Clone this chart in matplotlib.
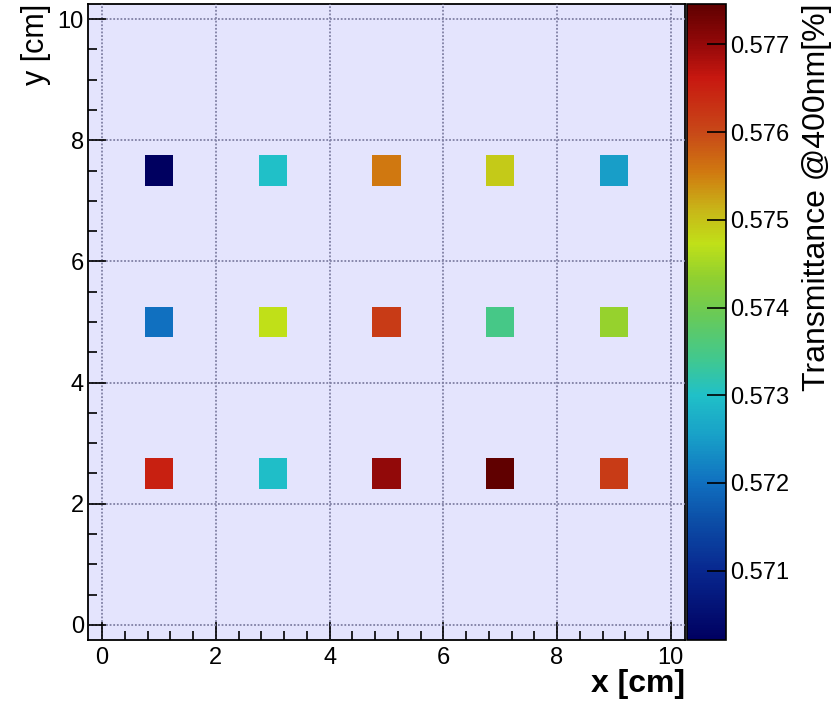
import numpy as np
import matplotlib
matplotlib.use('Agg')
import matplotlib.pyplot as plt
from matplotlib.colors import LinearSegmentedColormap
from matplotlib.ticker import MultipleLocator

plt.rcParams['font.family'] = ['Liberation Sans', 'DejaVu Sans']

# measurement points (cm) and transmittance at 400 nm
x_pos = [1, 3, 5, 7, 9,
         1, 3, 5, 7, 9,
         1, 3, 5, 7, 9]
y_pos = [7.5, 7.5, 7.5, 7.5, 7.5,
         5.0, 5.0, 5.0, 5.0, 5.0,
         2.5, 2.5, 2.5, 2.5, 2.5]
trans = [0.57021, 0.57300, 0.57556, 0.57492, 0.57253,
         0.57200, 0.57472, 0.57616, 0.57347, 0.57438,
         0.57652, 0.57297, 0.57703, 0.57746, 0.57616]

cbar_ticks = [0.571, 0.572, 0.573, 0.574, 0.575, 0.576, 0.577]

# rainbow-like palette
stops = [(0.00, '#000060'), (0.11, '#082890'), (0.19, '#0c50a8'),
         (0.247, '#1070c0'), (0.32, '#18a0c8'), (0.385, '#20c0c8'),
         (0.44, '#40c890'), (0.51, '#68ca58'), (0.57, '#90d030'),
         (0.623, '#c0e018'), (0.675, '#c8b818'), (0.737, '#d07810'),
         (0.80, '#c84818'), (0.885, '#c81810'), (0.932, '#9a0a0a'),
         (1.00, '#600000')]
cmap = LinearSegmentedColormap.from_list('trans', stops)

edges = np.arange(-0.25, 10.26, 0.5)
h, _, _ = np.histogram2d(x_pos, y_pos, bins=[edges, edges], weights=trans)
h = np.ma.masked_equal(h, 0)

fig = plt.figure(figsize=(8.33, 7.08), dpi=100)
ax = fig.add_axes([0.1056, 0.0960, 0.7167, 0.8984])
cax = fig.add_axes([0.8247, 0.0960, 0.0468, 0.8984])

ax.set_facecolor('#e4e4fd')
mesh = ax.pcolormesh(edges, edges, h.T, cmap=cmap,
                     vmin=min(trans), vmax=max(trans))
ax.set_xlim(-0.25, 10.25)
ax.set_ylim(-0.25, 10.25)

ax.xaxis.set_major_locator(MultipleLocator(2))
ax.xaxis.set_minor_locator(MultipleLocator(0.4))
ax.yaxis.set_major_locator(MultipleLocator(2))
ax.yaxis.set_minor_locator(MultipleLocator(0.5))
ax.tick_params(which='both', direction='in', labelsize=17, width=1.2)
ax.tick_params(which='major', length=13)
ax.tick_params(which='minor', length=6.5)
ax.tick_params(axis='x', pad=5)
ax.tick_params(axis='y', pad=3)
ax.grid(True, which='major', color='#8080a4', linestyle=(0, (1, 1)), linewidth=1.3)
ax.set_axisbelow(False)
for s in ax.spines.values():
    s.set_linewidth(1.3)

ax.set_xlabel('x [cm]', fontsize=23, fontweight='bold', loc='right', labelpad=0)
ax.set_ylabel('y [cm]', fontsize=22, loc='top', labelpad=5)

cb = fig.colorbar(mesh, cax=cax, ticks=cbar_ticks)
cb.outline.set_linewidth(1.2)
cax.tick_params(direction='in', length=14, width=1.2, labelsize=17, pad=3)
cax.set_yticklabels([f'{t:.3f}' for t in cbar_ticks])
cb.set_label('Transmittance @400nm[%]', fontsize=23, loc='top', labelpad=9)

fig.savefig('out.png', dpi=100)
